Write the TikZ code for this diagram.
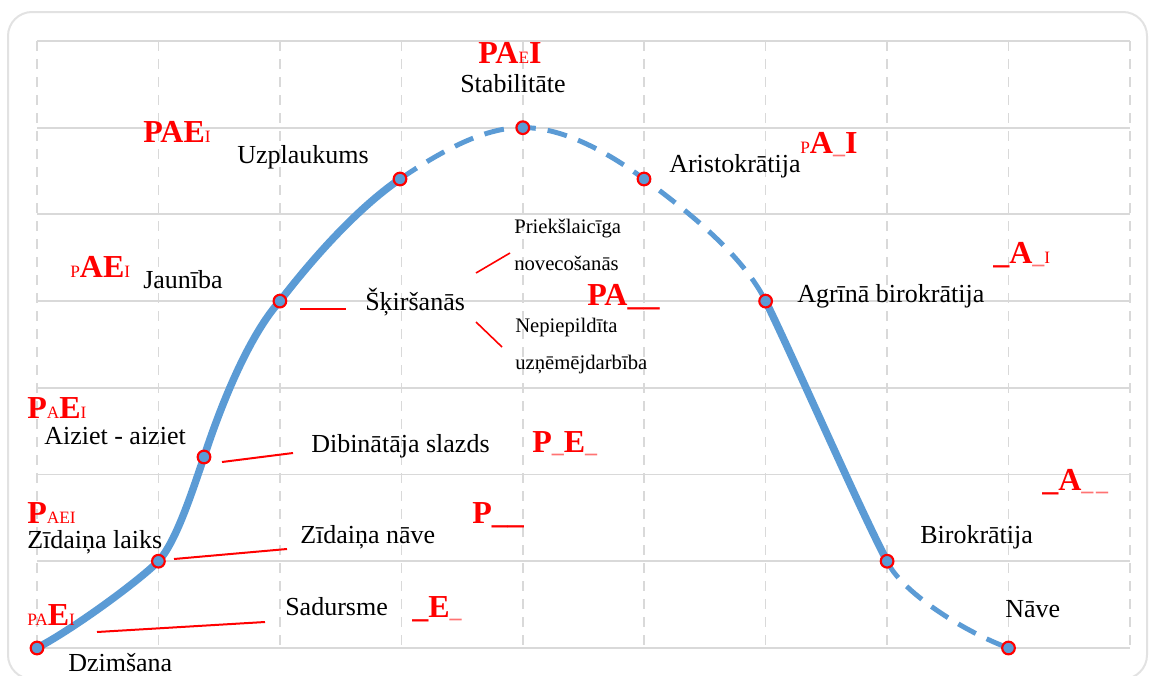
\documentclass[tikz,border=0pt]{standalone}
\usepackage{fontspec}
\setmainfont{Liberation Serif}
\usetikzlibrary{positioning}
\definecolor{lcBlue}{HTML}{5B9BD5}
\definecolor{lcGrid}{HTML}{D9D9D9}
\definecolor{lcFrame}{HTML}{E2E2E2}
\definecolor{lcRed}{HTML}{FF0000}
\newcommand{\pbig}[1]{{\fontsize{24}{26}\selectfont\bfseries #1}}
\newcommand{\psml}[1]{{\fontsize{13}{15}\selectfont #1}}
\newcommand{\pgap}{{\color{lcRed!55}\fontsize{18}{20}\selectfont\bfseries\_}}

\begin{document}
\begin{tikzpicture}[x=0.75pt,y=-0.75pt,
    lbl/.style={font=\fontsize{19.5}{22}\selectfont,inner sep=0pt,anchor=base west},
    note/.style={font=\fontsize{15.5}{18}\selectfont,inner sep=0pt,anchor=base west},
    code/.style={text=lcRed,inner sep=0pt,anchor=base west},
    dot/.style={circle,fill=lcBlue,draw=lcRed,line width=1.6pt,minimum size=9.5pt,inner sep=0pt},
    life/.style={lcBlue,line width=5.6pt},
    fade/.style={lcBlue,line width=3.7pt,dash pattern=on 15pt off 9pt},
    tick/.style={lcRed,line width=1.5pt}]
  \useasboundingbox (0,0) rectangle (1149,675);
  \draw[lcFrame,line width=1.5pt,rounded corners=18pt] (8,12) rectangle (1147,679);

  % grid
  \foreach \i in {0,...,7}
    \draw[lcGrid,line width=1.4pt] (37,41+86.71*\i) -- (1130,41+86.71*\i);
  \foreach \i in {0,...,9}
    \draw[lcGrid,line width=1.1pt,dash pattern=on 7.5pt off 6pt] (37+121.44*\i,41) -- (37+121.44*\i,648);

  % stages of the curve
  \coordinate (dz) at (37,648);
  \coordinate (zl) at (158.4,561.2);
  \coordinate (ai) at (204,457);
  \coordinate (ja) at (279.9,301.1);
  \coordinate (up) at (400,179);
  \coordinate (st) at (522.8,127.7);
  \coordinate (ar) at (644,179);
  \coordinate (ab) at (765.6,301.1);
  \coordinate (bi) at (887.1,561.2);
  \coordinate (na) at (1008.5,648);

  \draw[life] (dz) .. controls (75,628) and (140,580) .. (zl)
              .. controls (176,542) and (192,492) .. (ai)
              .. controls (216,420) and (245,340) .. (ja)
              .. controls (310,262) and (355,210) .. (up);
  \draw[fade] (up) .. controls (450,145) and (490,127) .. (st)
              .. controls (560,127) and (605,150) .. (ar)
              .. controls (700,220) and (745,260) .. (ab);
  \draw[life] (ab) .. controls (790,350) and (860,510) .. (bi);
  \draw[fade] (bi) .. controls (900,590) and (960,630) .. (na);

  \foreach \p in {dz,zl,ai,ja,up,st,ar,ab,bi,na}
    \node[dot] (m-\p) at (\p) {};

  % stage names
  \node[lbl] (tDz) at (68,671) {Dzimšana};
  \node[lbl] (tZl) at (27,548) {Zīdaiņa laiks};
  \node[lbl] (tAi) at (44,444) {Aiziet - aiziet};
  \node[lbl] (tJa) at (143,288) {Jaunība};
  \node[lbl] (tUp) at (237,163) {Uzplaukums};
  \node[lbl] (tSt) at (460,92) {Stabilitāte};
  \node[lbl] (tAr) at (669,172) {Aristokrātija};
  \node[lbl] (tAb) at (797,302) {Agrīnā birokrātija};
  \node[lbl] (tBi) at (920,543) {Birokrātija};
  \node[lbl] (tNa) at (1005,617) {Nāve};

  % traps
  \node[lbl] (tSk) at (365,310) {Šķiršanās};
  \node[lbl] (tDi) at (311,452) {Dibinātāja slazds};
  \node[lbl] (tZn) at (300,543) {Zīdaiņa nāve};
  \node[lbl] (tSa) at (285,615) {Sadursme};
  \node[note] (tPr) at (514,233) {Priekšlaicīga};
  \node[note] (tNo) at (514,270) {novecošanās};
  \node[note] (tNe) at (515,332) {Nepiepildīta};
  \node[note] (tUz) at (515,369) {uzņēmējdarbība};

  \path (97,632) coordinate (sa1) (265,622) coordinate (sa2)
        (174,559) coordinate (zn1) (287,549) coordinate (zn2)
        (222,462) coordinate (di1) (293,453) coordinate (di2)
        (300,309) coordinate (sk1) (346,309) coordinate (sk2)
        (476,273) coordinate (pr1) (510,253) coordinate (pr2)
        (476,322) coordinate (ne1) (502,347) coordinate (ne2);
  \draw[tick] (sa1) -- (sa2);
  \draw[tick] (zn1) -- (zn2);
  \draw[tick] (di1) -- (di2);
  \draw[tick] (sk1) -- (sk2);
  \draw[tick,line width=1.2pt] (pr1) -- (pr2);
  \draw[tick,line width=1.2pt] (ne1) -- (ne2);

  % PAEI codes
  \node[code] (cSt) at (478,63) {\pbig{PA}\psml{E}\pbig{I}};
  \node[code] (cUp) at (143,142) {\pbig{PAE}\psml{I}};
  \node[code] (cAr) at (800,153) {\psml{P}\pbig{A}\pgap\pbig{I}};
  \node[code] (cJa) at (70,277) {\psml{P}\pbig{AE}\psml{I}};
  \node[code] (cAb) at (993,263) {\pbig{\_A}\pgap\psml{I}};
  \node[code] (cSk) at (587,305) {\pbig{PA\_\_}};
  \node[code] (cAi) at (27,418) {\pbig{P}\psml{A}\pbig{E}\psml{I}};
  \node[code] (cDi) at (532,452) {\pbig{P}\pgap\pbig{E}\pgap};
  \node[code] (cZl) at (27,523) {\pbig{P}\psml{AEI}};
  \node[code] (cZn) at (472,523) {\pbig{P\_\_}};
  \node[code] (cBi) at (1042,490) {\pbig{\_A}\pgap\hspace{2pt}\pgap};
  \node[code] (cDz) at (27,625) {\psml{PA}\pbig{E}\psml{I}};
  \node[code] (cSa) at (412,617) {\pbig{\_E}\pgap};
\end{tikzpicture}
\end{document}
